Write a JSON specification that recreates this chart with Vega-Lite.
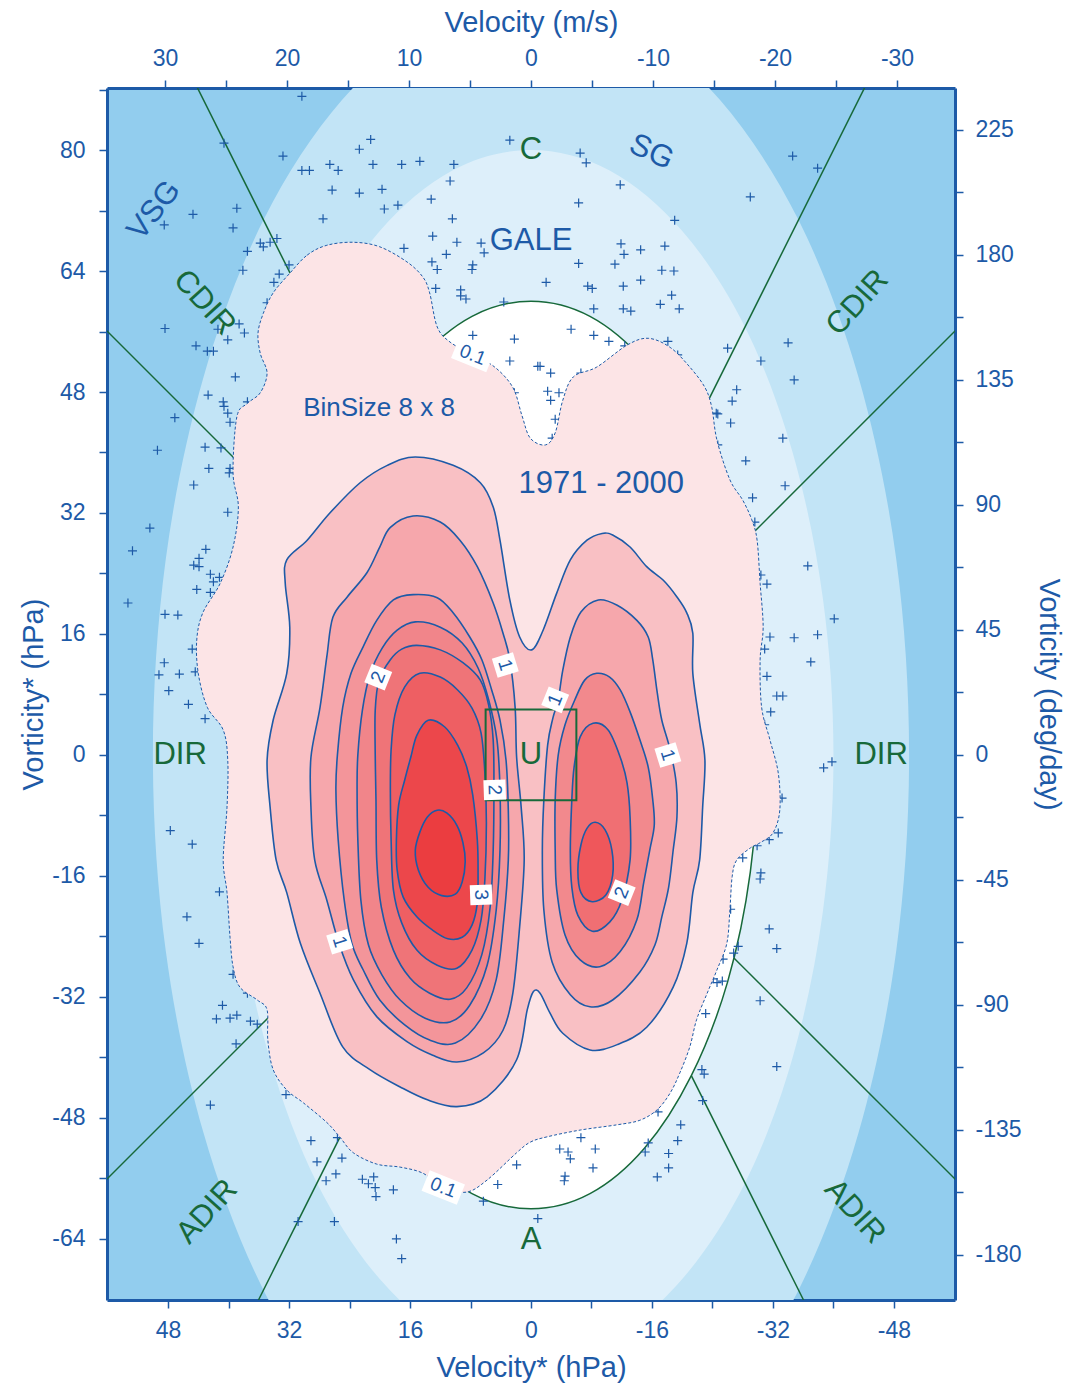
{
"$schema":"https://vega.github.io/schema/vega-lite/v6.json",
"width":848,"height":1212,
"autosize":{"type":"none"},
"padding":{"left":107,"top":88,"right":112,"bottom":84},
"config":{
 "view":{"fill":"#92cdee","stroke":null},
 "font":"Liberation Sans",
 "axis":{"grid":false,"domainColor":"#1d5aa7","domainWidth":3,"tickColor":"#1d5aa7","tickWidth":1.5,"tickSize":8,"labelColor":"#1d5aa7","labelFontSize":23,"labelFont":"Liberation Sans","titleColor":"#1d5aa7","titleFontSize":29,"titleFont":"Liberation Sans","titleFontWeight":"normal","labelOverlap":false,"labelFlush":false,"labelBound":false}
},
"datasets":{
"e50":[{"i":0,"x":50,"y":0},{"i":1,"x":48.3,"y":25.9},{"i":2,"x":43.3,"y":50},{"i":3,"x":35.4,"y":70.7},{"i":4,"x":25,"y":86.6},{"i":5,"x":12.9,"y":96.6},{"i":6,"x":0,"y":100},{"i":7,"x":-12.9,"y":96.6},{"i":8,"x":-25,"y":86.6},{"i":9,"x":-35.4,"y":70.7},{"i":10,"x":-43.3,"y":50},{"i":11,"x":-48.3,"y":25.9},{"i":12,"x":-50,"y":0},{"i":13,"x":-48.3,"y":-25.9},{"i":14,"x":-43.3,"y":-50},{"i":15,"x":-35.4,"y":-70.7},{"i":16,"x":-25,"y":-86.6},{"i":17,"x":-12.9,"y":-96.6},{"i":18,"x":0,"y":-100},{"i":19,"x":12.9,"y":-96.6},{"i":20,"x":25,"y":-86.6},{"i":21,"x":35.4,"y":-70.7},{"i":22,"x":43.3,"y":-50},{"i":23,"x":48.3,"y":-25.9}],
"e40":[{"i":0,"x":40,"y":0},{"i":1,"x":38.6,"y":20.7},{"i":2,"x":34.6,"y":40},{"i":3,"x":28.3,"y":56.6},{"i":4,"x":20,"y":69.3},{"i":5,"x":10.4,"y":77.3},{"i":6,"x":0,"y":80},{"i":7,"x":-10.4,"y":77.3},{"i":8,"x":-20,"y":69.3},{"i":9,"x":-28.3,"y":56.6},{"i":10,"x":-34.6,"y":40},{"i":11,"x":-38.6,"y":20.7},{"i":12,"x":-40,"y":0},{"i":13,"x":-38.6,"y":-20.7},{"i":14,"x":-34.6,"y":-40},{"i":15,"x":-28.3,"y":-56.6},{"i":16,"x":-20,"y":-69.3},{"i":17,"x":-10.4,"y":-77.3},{"i":18,"x":0,"y":-80},{"i":19,"x":10.4,"y":-77.3},{"i":20,"x":20,"y":-69.3},{"i":21,"x":28.3,"y":-56.6},{"i":22,"x":34.6,"y":-40},{"i":23,"x":38.6,"y":-20.7}],
"e30":[{"i":0,"x":30,"y":0},{"i":1,"x":29,"y":15.5},{"i":2,"x":26,"y":30},{"i":3,"x":21.2,"y":42.4},{"i":4,"x":15,"y":52},{"i":5,"x":7.8,"y":58},{"i":6,"x":0,"y":60},{"i":7,"x":-7.8,"y":58},{"i":8,"x":-15,"y":52},{"i":9,"x":-21.2,"y":42.4},{"i":10,"x":-26,"y":30},{"i":11,"x":-29,"y":15.5},{"i":12,"x":-30,"y":0},{"i":13,"x":-29,"y":-15.5},{"i":14,"x":-26,"y":-30},{"i":15,"x":-21.2,"y":-42.4},{"i":16,"x":-15,"y":-52},{"i":17,"x":-7.8,"y":-58},{"i":18,"x":0,"y":-60},{"i":19,"x":7.8,"y":-58},{"i":20,"x":15,"y":-52},{"i":21,"x":21.2,"y":-42.4},{"i":22,"x":26,"y":-30},{"i":23,"x":29,"y":-15.5}],
"rays":[{"x":21.2,"y":42.4,"x2":50,"y2":100},{"x":-21.2,"y":42.4,"x2":-50,"y2":100},{"x":26.8,"y":26.8,"x2":70,"y2":70},{"x":-26.8,"y":26.8,"x2":-70,"y2":70},{"x":26.8,"y":-26.8,"x2":70,"y2":-70},{"x":-26.8,"y":-26.8,"x2":-70,"y2":-70},{"x":21.2,"y":-42.4,"x2":40,"y2":-80},{"x":-21.2,"y":-42.4,"x2":-40,"y2":-80}],
"pts":[{"x":30.3,"y":87.1},{"x":40.6,"y":80.9},{"x":32.8,"y":79.2},{"x":21.2,"y":81.4},{"x":22.7,"y":80.1},{"x":2.8,"y":81.3},{"x":30.3,"y":77.3},{"x":29.3,"y":77.3},{"x":26.6,"y":78.1},{"x":25.5,"y":77.3},{"x":20.9,"y":78.1},{"x":17.1,"y":78.1},{"x":14.7,"y":78.5},{"x":10.2,"y":78.1},{"x":10.7,"y":75.9},{"x":26.3,"y":74.7},{"x":22.7,"y":74.3},{"x":19.7,"y":74.8},{"x":19.4,"y":72.2},{"x":17.6,"y":72.7},{"x":13.2,"y":73.5},{"x":27.5,"y":70.9},{"x":10.4,"y":70.9},{"x":44.7,"y":71.5},{"x":38.9,"y":72.3},{"x":48.5,"y":70.1},{"x":39.4,"y":69.7},{"x":13.0,"y":68.6},{"x":9.8,"y":67.8},{"x":6.6,"y":67.7},{"x":6.2,"y":66.4},{"x":35.8,"y":67.7},{"x":35.4,"y":67.2},{"x":34.5,"y":67.8},{"x":33.6,"y":68.3},{"x":37.5,"y":66.6},{"x":32.0,"y":64.8},{"x":38.1,"y":64.1},{"x":33.3,"y":63.6},{"x":34.0,"y":62.5},{"x":16.8,"y":67.0},{"x":13.1,"y":65.2},{"x":12.4,"y":64.2},{"x":11.2,"y":66.2},{"x":7.7,"y":64.8},{"x":7.8,"y":64.2},{"x":12.6,"y":61.7},{"x":9.3,"y":61.5},{"x":9.3,"y":60.7},{"x":8.6,"y":60.3},{"x":3.6,"y":59.9},{"x":34.9,"y":59.8},{"x":38.6,"y":57.0},{"x":37.9,"y":55.8},{"x":40.1,"y":54.9},{"x":48.4,"y":56.4},{"x":41.4,"y":56.3},{"x":44.3,"y":54.1},{"x":42.8,"y":53.4},{"x":42.0,"y":53.4},{"x":39.1,"y":50.0},{"x":42.7,"y":47.6},{"x":40.7,"y":46.7},{"x":40.6,"y":46.1},{"x":40.1,"y":45.2},{"x":39.8,"y":44.0},{"x":37.5,"y":46.7},{"x":47.1,"y":44.6},{"x":43.1,"y":40.7},{"x":41.0,"y":40.6},{"x":49.4,"y":40.3},{"x":42.6,"y":37.9},{"x":39.8,"y":37.9},{"x":39.9,"y":37.3},{"x":44.6,"y":35.7},{"x":7.7,"y":55.5},{"x":2.2,"y":55.0},{"x":2.8,"y":52.1},{"x":-0.9,"y":51.4},{"x":2.2,"y":47.9},{"x":-6.5,"y":79.6},{"x":-7.3,"y":78.3},{"x":-11.8,"y":75.4},{"x":-6.3,"y":73.0},{"x":-19.0,"y":70.7},{"x":-34.6,"y":79.2},{"x":-37.9,"y":77.6},{"x":-29.0,"y":73.8},{"x":-11.9,"y":67.6},{"x":-12.3,"y":66.2},{"x":-14.5,"y":66.8},{"x":-17.7,"y":67.3},{"x":-6.3,"y":65.0},{"x":-11.1,"y":64.9},{"x":-17.3,"y":64.1},{"x":-18.9,"y":64.0},{"x":-2.0,"y":62.5},{"x":-7.5,"y":62.0},{"x":-8.1,"y":61.7},{"x":-12.2,"y":62.0},{"x":-14.5,"y":62.8},{"x":-18.6,"y":60.8},{"x":-8.3,"y":59.0},{"x":-12.2,"y":59.0},{"x":-13.2,"y":58.7},{"x":-17.1,"y":59.6},{"x":-19.6,"y":59.0},{"x":-5.3,"y":56.3},{"x":-8.3,"y":55.5},{"x":-10.3,"y":54.7},{"x":-12.4,"y":54.1},{"x":-18.1,"y":54.7},{"x":-19.4,"y":52.9},{"x":-1.2,"y":51.4},{"x":-2.6,"y":50.5},{"x":-6.6,"y":50.5},{"x":-2.2,"y":48.1},{"x":-3.7,"y":47.9},{"x":-2.6,"y":46.9},{"x":-3.2,"y":44.4},{"x":-2.8,"y":41.9},{"x":-26.0,"y":53.8},{"x":-30.4,"y":52.1},{"x":-34.0,"y":54.5},{"x":-34.8,"y":49.6},{"x":-27.2,"y":48.3},{"x":-26.6,"y":46.8},{"x":-24.5,"y":45.2},{"x":-24.7,"y":45.1},{"x":-26.4,"y":43.9},{"x":-24.7,"y":41.0},{"x":-33.3,"y":41.9},{"x":-28.4,"y":38.9},{"x":-33.6,"y":35.6},{"x":-29.3,"y":34.0},{"x":-29.6,"y":30.8},{"x":-36.6,"y":25.0},{"x":-30.4,"y":23.8},{"x":-31.2,"y":22.6},{"x":-40.1,"y":18.0},{"x":-31.6,"y":15.6},{"x":-34.8,"y":15.5},{"x":-37.9,"y":15.9},{"x":-30.9,"y":14.0},{"x":-37.0,"y":12.3},{"x":-31.2,"y":10.4},{"x":-32.5,"y":7.8},{"x":-33.3,"y":7.8},{"x":-31.7,"y":5.7},{"x":-30.9,"y":4.0},{"x":-38.7,"y":-1.7},{"x":-39.8,"y":-0.9},{"x":-33.2,"y":-5.7},{"x":-32.7,"y":-10.3},{"x":-31.5,"y":-11.2},{"x":-29.9,"y":-12.0},{"x":-28.0,"y":-13.6},{"x":-30.4,"y":-15.6},{"x":40.1,"y":32.1},{"x":50.4,"y":30.0},{"x":52.7,"y":27.0},{"x":43.0,"y":27.2},{"x":43.9,"y":26.0},{"x":44.6,"y":25.1},{"x":43.9,"y":24.9},{"x":42.4,"y":23.9},{"x":42.0,"y":22.9},{"x":41.2,"y":23.5},{"x":44.2,"y":21.9},{"x":42.4,"y":21.5},{"x":53.3,"y":20.1},{"x":48.4,"y":18.6},{"x":46.7,"y":18.5},{"x":44.8,"y":14.0},{"x":48.5,"y":12.2},{"x":49.2,"y":10.6},{"x":46.5,"y":10.7},{"x":44.4,"y":11.0},{"x":47.9,"y":8.5},{"x":45.3,"y":6.7},{"x":43.1,"y":4.8},{"x":47.7,"y":-10.0},{"x":44.8,"y":-11.8},{"x":41.2,"y":-18.1},{"x":45.5,"y":-21.4},{"x":43.9,"y":-24.9},{"x":39.4,"y":-29.0},{"x":37.5,"y":-31.5},{"x":40.8,"y":-33.1},{"x":41.6,"y":-34.9},{"x":39.8,"y":-34.8},{"x":38.9,"y":-34.4},{"x":37.1,"y":-35.2},{"x":36.2,"y":-35.6},{"x":39.0,"y":-38.2},{"x":42.4,"y":-46.3},{"x":32.4,"y":-44.9},{"x":29.1,"y":-51.0},{"x":25.6,"y":-50.6},{"x":28.3,"y":-53.8},{"x":25.0,"y":-53.3},{"x":25.8,"y":-55.4},{"x":27.1,"y":-56.3},{"x":22.3,"y":-56.1},{"x":21.5,"y":-56.7},{"x":20.8,"y":-55.8},{"x":20.6,"y":-57.2},{"x":20.5,"y":-58.4},{"x":18.2,"y":-57.5},{"x":30.8,"y":-61.7},{"x":26.0,"y":-61.7},{"x":17.8,"y":-64.0},{"x":17.1,"y":-66.6},{"x":1.9,"y":-54.2},{"x":4.4,"y":-56.8},{"x":6.3,"y":-59.0},{"x":-0.9,"y":-61.3},{"x":-30.3,"y":-16.4},{"x":-26.4,"y":-20.4},{"x":-31.5,"y":-23.0},{"x":-32.5,"y":-25.6},{"x":-27.4,"y":-25.3},{"x":-26.8,"y":-26.2},{"x":-25.4,"y":-27.0},{"x":-24.1,"y":-29.6},{"x":-24.6,"y":-30.1},{"x":-25.3,"y":-29.9},{"x":-30.3,"y":-32.5},{"x":-23.1,"y":-34.2},{"x":-32.5,"y":-41.2},{"x":-22.6,"y":-41.6},{"x":-22.9,"y":-42.2},{"x":-22.7,"y":-45.7},{"x":-16.8,"y":-47.2},{"x":-19.8,"y":-48.9},{"x":-19.4,"y":-51.0},{"x":-15.5,"y":-51.3},{"x":-15.1,"y":-52.5},{"x":-18.2,"y":-52.7},{"x":-18.2,"y":-54.6},{"x":-16.7,"y":-55.8},{"x":-6.6,"y":-50.6},{"x":-3.8,"y":-52.1},{"x":-4.9,"y":-52.5},{"x":-5.2,"y":-53.4},{"x":-8.5,"y":-52.1},{"x":-8.2,"y":-54.6},{"x":-4.5,"y":-55.7},{"x":-4.4,"y":-56.3}],
"c01":[{"i":0,"x":31.9,"y":63.7},{"i":1,"x":29.6,"y":66.1},{"i":2,"x":27.0,"y":67.4},{"i":3,"x":23.5,"y":67.8},{"i":4,"x":20.0,"y":67.2},{"i":5,"x":16.4,"y":65.2},{"i":6,"x":14.3,"y":63.2},{"i":7,"x":13.4,"y":61.1},{"i":8,"x":12.4,"y":56.6},{"i":9,"x":10.7,"y":54.6},{"i":10,"x":7.7,"y":52.9},{"i":11,"x":4.8,"y":51.3},{"i":12,"x":2.4,"y":48.6},{"i":13,"x":1.2,"y":44.9},{"i":14,"x":0.1,"y":41.9},{"i":15,"x":-1.9,"y":41.0},{"i":16,"x":-3.2,"y":42.6},{"i":17,"x":-4.2,"y":46.9},{"i":18,"x":-5.6,"y":50.0},{"i":19,"x":-8.7,"y":51.3},{"i":20,"x":-12.7,"y":54.2},{"i":21,"x":-15.5,"y":55.1},{"i":22,"x":-18.4,"y":53.9},{"i":23,"x":-21.0,"y":51.3},{"i":24,"x":-23.0,"y":48.6},{"i":25,"x":-23.9,"y":46.0},{"i":26,"x":-24.6,"y":41.6},{"i":27,"x":-26.3,"y":36.4},{"i":28,"x":-28.0,"y":33.7},{"i":29,"x":-29.2,"y":31.1},{"i":30,"x":-29.9,"y":28.4},{"i":31,"x":-30.3,"y":22.7},{"i":32,"x":-30.7,"y":16.9},{"i":33,"x":-30.3,"y":12.6},{"i":34,"x":-30.5,"y":6.3},{"i":35,"x":-31.6,"y":2.0},{"i":36,"x":-32.7,"y":-2.4},{"i":37,"x":-32.9,"y":-7.3},{"i":38,"x":-32.0,"y":-10.3},{"i":39,"x":-30.3,"y":-11.6},{"i":40,"x":-29.0,"y":-12.3},{"i":41,"x":-27.2,"y":-13.9},{"i":42,"x":-26.6,"y":-16.1},{"i":43,"x":-26.3,"y":-20.5},{"i":44,"x":-25.9,"y":-24.9},{"i":45,"x":-24.6,"y":-28.4},{"i":46,"x":-23.3,"y":-31.5},{"i":47,"x":-21.9,"y":-35.0},{"i":48,"x":-21.0,"y":-38.6},{"i":49,"x":-19.7,"y":-42.0},{"i":50,"x":-18.4,"y":-44.7},{"i":51,"x":-16.7,"y":-46.9},{"i":52,"x":-14.4,"y":-48.3},{"i":53,"x":-11.4,"y":-48.9},{"i":54,"x":-6.5,"y":-49.6},{"i":55,"x":-2.1,"y":-50.5},{"i":56,"x":0.1,"y":-51.2},{"i":57,"x":1.9,"y":-52.6},{"i":58,"x":5.8,"y":-56.2},{"i":59,"x":8.5,"y":-57.8},{"i":60,"x":11.6,"y":-57.2},{"i":61,"x":14.3,"y":-55.3},{"i":62,"x":17.3,"y":-54.5},{"i":63,"x":20.4,"y":-54.1},{"i":64,"x":23.5,"y":-52.6},{"i":65,"x":25.3,"y":-50.5},{"i":66,"x":27.0,"y":-48.6},{"i":67,"x":30.1,"y":-46.0},{"i":68,"x":32.3,"y":-44.3},{"i":69,"x":34.1,"y":-41.6},{"i":70,"x":34.8,"y":-37.7},{"i":71,"x":34.9,"y":-33.7},{"i":72,"x":36.2,"y":-32.4},{"i":73,"x":38.5,"y":-30.7},{"i":74,"x":39.4,"y":-28.0},{"i":75,"x":39.8,"y":-24.1},{"i":76,"x":40.2,"y":-18.2},{"i":77,"x":40.7,"y":-13.9},{"i":78,"x":40.2,"y":-6.9},{"i":79,"x":40.1,"y":-0.7},{"i":80,"x":40.7,"y":3.3},{"i":81,"x":42.8,"y":6.3},{"i":82,"x":44.0,"y":10.8},{"i":83,"x":44.2,"y":15.2},{"i":84,"x":43.4,"y":18.8},{"i":85,"x":41.1,"y":22.7},{"i":86,"x":39.4,"y":27.5},{"i":87,"x":38.7,"y":32.8},{"i":88,"x":39.4,"y":37.3},{"i":89,"x":38.9,"y":44.7},{"i":90,"x":37.5,"y":46.5},{"i":91,"x":35.8,"y":47.9},{"i":92,"x":34.9,"y":50.5},{"i":93,"x":35.8,"y":53.1},{"i":94,"x":36.1,"y":55.8},{"i":95,"x":35.4,"y":58.4},{"i":96,"x":34.1,"y":61.1}],
"cA":[{"i":0,"x":-0.1,"y":13.9},{"i":1,"x":1.5,"y":15.6},{"i":2,"x":2.8,"y":20.5},{"i":3,"x":4.1,"y":28.4},{"i":4,"x":5.0,"y":32.8},{"i":5,"x":6.7,"y":36.0},{"i":6,"x":10.3,"y":38.3},{"i":7,"x":15.3,"y":39.4},{"i":8,"x":19.0,"y":38.3},{"i":9,"x":22.6,"y":36.0},{"i":10,"x":26.6,"y":32.0},{"i":11,"x":29.6,"y":28.4},{"i":12,"x":32.3,"y":25.8},{"i":13,"x":32.5,"y":22.7},{"i":14,"x":31.9,"y":16.9},{"i":15,"x":32.3,"y":10.8},{"i":16,"x":34.1,"y":4.6},{"i":17,"x":34.9,"y":-0.7},{"i":18,"x":34.5,"y":-6.9},{"i":19,"x":33.7,"y":-13.9},{"i":20,"x":32.3,"y":-18.2},{"i":21,"x":30.5,"y":-24.9},{"i":22,"x":27.9,"y":-31.5},{"i":23,"x":24.9,"y":-38.6},{"i":24,"x":21.3,"y":-41.6},{"i":25,"x":17.3,"y":-43.9},{"i":26,"x":13.7,"y":-45.6},{"i":27,"x":9.8,"y":-46.5},{"i":28,"x":5.8,"y":-45.2},{"i":29,"x":1.9,"y":-40.3},{"i":30,"x":0.5,"y":-33.7},{"i":31,"x":-0.3,"y":-31.3},{"i":32,"x":-1.2,"y":-31.5},{"i":33,"x":-2.5,"y":-34.1},{"i":34,"x":-4.2,"y":-36.8},{"i":35,"x":-7.8,"y":-39.0},{"i":36,"x":-11.4,"y":-38.3},{"i":37,"x":-15.3,"y":-36.0},{"i":38,"x":-18.8,"y":-30.7},{"i":39,"x":-20.6,"y":-24.9},{"i":40,"x":-21.4,"y":-18.2},{"i":41,"x":-22.3,"y":-13.9},{"i":42,"x":-22.7,"y":-6.9},{"i":43,"x":-23.0,"y":-0.7},{"i":44,"x":-22.3,"y":4.2},{"i":45,"x":-21.4,"y":10.8},{"i":46,"x":-21.4,"y":16.1},{"i":47,"x":-20.6,"y":18.8},{"i":48,"x":-19.3,"y":20.9},{"i":49,"x":-17.5,"y":23.1},{"i":50,"x":-15.3,"y":24.9},{"i":51,"x":-13.1,"y":27.5},{"i":52,"x":-10.8,"y":29.1},{"i":53,"x":-9.4,"y":29.3},{"i":54,"x":-7.4,"y":28.4},{"i":55,"x":-5.2,"y":25.8},{"i":56,"x":-3.4,"y":21.4},{"i":57,"x":-1.6,"y":16.5}],
"cBL":[{"i":0,"x":15.6,"y":31.6},{"i":1,"x":12.0,"y":30.8},{"i":2,"x":9.4,"y":28.4},{"i":3,"x":7.1,"y":24.9},{"i":4,"x":5.0,"y":20.1},{"i":5,"x":3.7,"y":16.1},{"i":6,"x":2.8,"y":12.6},{"i":7,"x":2.1,"y":6.3},{"i":8,"x":1.9,"y":-0.3},{"i":9,"x":1.3,"y":-6.9},{"i":10,"x":0.9,"y":-13.9},{"i":11,"x":1.5,"y":-22.7},{"i":12,"x":2.4,"y":-31.5},{"i":13,"x":3.7,"y":-36.4},{"i":14,"x":6.3,"y":-39.4},{"i":15,"x":9.8,"y":-40.6},{"i":16,"x":13.0,"y":-39.7},{"i":17,"x":16.4,"y":-37.9},{"i":18,"x":20.4,"y":-34.6},{"i":19,"x":23.5,"y":-29.7},{"i":20,"x":25.4,"y":-24.9},{"i":21,"x":27.0,"y":-19.2},{"i":22,"x":28.6,"y":-13.9},{"i":23,"x":29.1,"y":-6.9},{"i":24,"x":29.1,"y":-0.3},{"i":25,"x":27.9,"y":6.3},{"i":26,"x":27.0,"y":13.0},{"i":27,"x":26.2,"y":18.2},{"i":28,"x":24.3,"y":20.9},{"i":29,"x":21.7,"y":24.1},{"i":30,"x":20.0,"y":27.5},{"i":31,"x":18.6,"y":30.1}],
"cCL":[{"i":0,"x":15.6,"y":21.2},{"i":1,"x":12.4,"y":20.8},{"i":2,"x":10.3,"y":18.8},{"i":3,"x":8.1,"y":15.6},{"i":4,"x":6.5,"y":12.6},{"i":5,"x":5.2,"y":8.6},{"i":6,"x":4.1,"y":4.6},{"i":7,"x":3.3,"y":-0.7},{"i":8,"x":3.0,"y":-7.3},{"i":9,"x":3.0,"y":-13.9},{"i":10,"x":3.6,"y":-21.8},{"i":11,"x":4.6,"y":-29.7},{"i":12,"x":6.7,"y":-35.0},{"i":13,"x":10.0,"y":-38.1},{"i":14,"x":13.4,"y":-37.7},{"i":15,"x":16.7,"y":-35.7},{"i":16,"x":20.0,"y":-32.4},{"i":17,"x":22.2,"y":-28.4},{"i":18,"x":23.7,"y":-24.9},{"i":19,"x":24.7,"y":-19.2},{"i":20,"x":25.5,"y":-11.2},{"i":21,"x":25.8,"y":-4.6},{"i":22,"x":25.6,"y":0},{"i":23,"x":24.9,"y":6.3},{"i":24,"x":23.8,"y":10.8},{"i":25,"x":22.2,"y":14.3},{"i":26,"x":20.4,"y":17.8},{"i":27,"x":18.2,"y":20.5}],
"cXL":[{"i":0,"x":15.3,"y":17.6},{"i":1,"x":12.0,"y":16.9},{"i":2,"x":9.1,"y":14.8},{"i":3,"x":7.0,"y":11.5},{"i":4,"x":5.6,"y":7.3},{"i":5,"x":4.5,"y":2.0},{"i":6,"x":4.1,"y":-4.6},{"i":7,"x":4.1,"y":-12.6},{"i":8,"x":4.6,"y":-20.5},{"i":9,"x":5.8,"y":-27.8},{"i":10,"x":8.1,"y":-33.1},{"i":11,"x":10.7,"y":-35.3},{"i":12,"x":14.0,"y":-34.8},{"i":13,"x":17.3,"y":-32.4},{"i":14,"x":19.7,"y":-29.1},{"i":15,"x":21.5,"y":-25.1},{"i":16,"x":22.5,"y":-19.2},{"i":17,"x":22.9,"y":-11.2},{"i":18,"x":23.0,"y":-4.6},{"i":19,"x":22.9,"y":0},{"i":20,"x":22.3,"y":5.9},{"i":21,"x":21.3,"y":10.6},{"i":22,"x":19.7,"y":14.1},{"i":23,"x":17.7,"y":16.5}],
"cDL":[{"i":0,"x":15.1,"y":14.5},{"i":1,"x":12.0,"y":13.9},{"i":2,"x":9.0,"y":12.2},{"i":3,"x":6.7,"y":9.9},{"i":4,"x":5.6,"y":6.6},{"i":5,"x":5.0,"y":2.0},{"i":6,"x":4.9,"y":-4.6},{"i":7,"x":5.0,"y":-12.6},{"i":8,"x":5.4,"y":-20.1},{"i":9,"x":6.5,"y":-26.4},{"i":10,"x":8.5,"y":-30.8},{"i":11,"x":10.7,"y":-32.3},{"i":12,"x":13.4,"y":-31.5},{"i":13,"x":16.0,"y":-29.5},{"i":14,"x":18.2,"y":-25.8},{"i":15,"x":19.8,"y":-20.1},{"i":16,"x":20.4,"y":-13.9},{"i":17,"x":20.5,"y":-5.9},{"i":18,"x":20.6,"y":0},{"i":19,"x":20.6,"y":5.9},{"i":20,"x":20.1,"y":9.9},{"i":21,"x":18.6,"y":12.6},{"i":22,"x":17.1,"y":14.0}],
"cEL":[{"i":0,"x":14.7,"y":10.8},{"i":1,"x":12.0,"y":10.3},{"i":2,"x":9.7,"y":8.6},{"i":3,"x":7.8,"y":6.2},{"i":4,"x":6.6,"y":2.9},{"i":5,"x":6.1,"y":-2.4},{"i":6,"x":5.9,"y":-9.0},{"i":7,"x":6.1,"y":-16.5},{"i":8,"x":6.6,"y":-21.8},{"i":9,"x":7.8,"y":-25.8},{"i":10,"x":9.8,"y":-28.2},{"i":11,"x":12.4,"y":-27.8},{"i":12,"x":15.1,"y":-25.8},{"i":13,"x":17.1,"y":-22.2},{"i":14,"x":18.2,"y":-17.8},{"i":15,"x":18.5,"y":-11.2},{"i":16,"x":18.6,"y":-4.6},{"i":17,"x":18.5,"y":0.7},{"i":18,"x":18.0,"y":5.3},{"i":19,"x":16.7,"y":9.0}],
"cFL":[{"i":0,"x":13.6,"y":4.6},{"i":1,"x":11.4,"y":3.7},{"i":2,"x":9.7,"y":1.3},{"i":3,"x":8.5,"y":-1.6},{"i":4,"x":7.7,"y":-5.3},{"i":5,"x":7.1,"y":-11.2},{"i":6,"x":7.0,"y":-15.6},{"i":7,"x":7.1,"y":-19.6},{"i":8,"x":7.8,"y":-22.5},{"i":9,"x":9.1,"y":-24.1},{"i":10,"x":11.0,"y":-24.3},{"i":11,"x":13.1,"y":-23.1},{"i":12,"x":15.1,"y":-21.4},{"i":13,"x":16.9,"y":-18.8},{"i":14,"x":17.7,"y":-15.2},{"i":15,"x":17.8,"y":-11.2},{"i":16,"x":17.5,"y":-6.6},{"i":17,"x":16.7,"y":-3.3},{"i":18,"x":15.9,"y":-0.3},{"i":19,"x":15.1,"y":2.6}],
"cGL":[{"i":0,"x":12.4,"y":-7.3},{"i":1,"x":11.1,"y":-7.7},{"i":2,"x":9.8,"y":-9.3},{"i":3,"x":9.0,"y":-11.6},{"i":4,"x":8.7,"y":-14.1},{"i":5,"x":9.1,"y":-16.8},{"i":6,"x":10.0,"y":-18.4},{"i":7,"x":11.8,"y":-18.6},{"i":8,"x":13.6,"y":-17.5},{"i":9,"x":14.9,"y":-15.2},{"i":10,"x":15.3,"y":-12.6},{"i":11,"x":14.7,"y":-10.2},{"i":12,"x":13.7,"y":-8.2}],
"cBR":[{"i":0,"x":-8.9,"y":20.5},{"i":1,"x":-11.4,"y":19.8},{"i":2,"x":-14.0,"y":17.8},{"i":3,"x":-15.5,"y":15.6},{"i":4,"x":-16.1,"y":12.6},{"i":5,"x":-16.7,"y":8.2},{"i":6,"x":-17.3,"y":4.6},{"i":7,"x":-18.4,"y":0.7},{"i":8,"x":-19.2,"y":-3.7},{"i":9,"x":-19.3,"y":-8.2},{"i":10,"x":-18.8,"y":-12.6},{"i":11,"x":-18.2,"y":-17.5},{"i":12,"x":-17.3,"y":-21.4},{"i":13,"x":-16.4,"y":-25.1},{"i":14,"x":-14.4,"y":-28.7},{"i":15,"x":-10.8,"y":-32.4},{"i":16,"x":-7.8,"y":-33.3},{"i":17,"x":-5.2,"y":-31.7},{"i":18,"x":-2.8,"y":-27.4},{"i":19,"x":-1.7,"y":-20.5},{"i":20,"x":-1.5,"y":-12.6},{"i":21,"x":-1.7,"y":-5.9},{"i":22,"x":-2.2,"y":1.3},{"i":23,"x":-2.9,"y":4.9},{"i":24,"x":-3.6,"y":7.3},{"i":25,"x":-4.2,"y":11.2},{"i":26,"x":-5.2,"y":15.6},{"i":27,"x":-6.6,"y":18.9}],
"cCR":[{"i":0,"x":-8.7,"y":10.8},{"i":1,"x":-10.4,"y":10.3},{"i":2,"x":-11.8,"y":8.6},{"i":3,"x":-13.1,"y":5.7},{"i":4,"x":-14.4,"y":2.0},{"i":5,"x":-15.5,"y":-1.6},{"i":6,"x":-16.1,"y":-5.9},{"i":7,"x":-16.3,"y":-9.3},{"i":8,"x":-15.7,"y":-12.6},{"i":9,"x":-14.9,"y":-16.9},{"i":10,"x":-14.0,"y":-21.8},{"i":11,"x":-11.8,"y":-26.0},{"i":12,"x":-9.1,"y":-28.0},{"i":13,"x":-6.5,"y":-27.1},{"i":14,"x":-4.5,"y":-23.8},{"i":15,"x":-3.4,"y":-17.8},{"i":16,"x":-3.2,"y":-12.6},{"i":17,"x":-3.2,"y":-5.9},{"i":18,"x":-3.6,"y":0},{"i":19,"x":-4.5,"y":4.0},{"i":20,"x":-5.8,"y":7.3},{"i":21,"x":-7.1,"y":9.9}],
"cDR":[{"i":0,"x":-8.2,"y":4.2},{"i":1,"x":-10.2,"y":3.3},{"i":2,"x":-11.8,"y":-0.3},{"i":3,"x":-12.7,"y":-3.7},{"i":4,"x":-13.1,"y":-8.2},{"i":5,"x":-13.1,"y":-13.9},{"i":6,"x":-12.0,"y":-19.2},{"i":7,"x":-10.4,"y":-22.1},{"i":8,"x":-8.1,"y":-23.3},{"i":9,"x":-6.2,"y":-21.2},{"i":10,"x":-5.4,"y":-17.5},{"i":11,"x":-5.2,"y":-12.6},{"i":12,"x":-5.4,"y":-5.9},{"i":13,"x":-5.7,"y":-1.6},{"i":14,"x":-6.5,"y":2.4}],
"cER":[{"i":0,"x":-8.5,"y":-8.9},{"i":1,"x":-9.8,"y":-9.9},{"i":2,"x":-10.7,"y":-12.6},{"i":3,"x":-10.8,"y":-15.9},{"i":4,"x":-9.9,"y":-18.5},{"i":5,"x":-8.1,"y":-19.4},{"i":6,"x":-6.6,"y":-18.2},{"i":7,"x":-6.2,"y":-15.2},{"i":8,"x":-6.6,"y":-11.9},{"i":9,"x":-7.4,"y":-9.7}],
"lb22":[{"x":7.7,"y":52.9,"t":"0.1"},{"x":11.6,"y":-57.2,"t":"0.1"}],
"lb73":[{"x":3.4,"y":11.9,"t":"1"},{"x":25.3,"y":-24.7,"t":"1"},{"x":-18.1,"y":0,"t":"1"}],
"lb88":[{"x":4.8,"y":-4.6,"t":"2"},{"x":6.6,"y":-18.5,"t":"3"}],
"lbm68":[{"x":20.2,"y":10.3,"t":"2"},{"x":-12.0,"y":-18.2,"t":"2"},{"x":-3.2,"y":7.3,"t":"1"}]
},
"layer":[
{
 "encoding":{
  "x":{"field":"x","type":"quantitative","scale":{"domain":[-56.07,56.07],"reverse":true,"nice":false,"zero":false},
       "axis":{"orient":"bottom","title":"Velocity* (hPa)","values":[-48,-40,-32,-24,-16,-8,0,8,16,24,32,40,48],"labelExpr":"datum.value % 16 == 0 ? '' + datum.value : ''","labelPadding":11,"titlePadding":11}},
  "y":{"field":"y","type":"quantitative","scale":{"domain":[-72.07,88.2],"nice":false,"zero":false},
       "axis":{"orient":"left","title":"Vorticity* (hPa)","values":[-64,-56,-48,-40,-32,-24,-16,-8,0,8,16,24,32,40,48,56,64,72,80,88],"labelExpr":"datum.value % 16 == 0 ? '' + datum.value : ''","labelPadding":14,"titlePadding":3}}
 },
 "layer":[
  {"data":{"name":"e50"},"mark":{"type":"line","interpolate":"cardinal-closed","fill":"#c2e4f6","strokeOpacity":0,"clip":true},"encoding":{"order":{"field":"i","type":"quantitative"}}},
  {"data":{"name":"e40"},"mark":{"type":"line","interpolate":"cardinal-closed","fill":"#ddeffa","strokeOpacity":0,"clip":true},"encoding":{"order":{"field":"i","type":"quantitative"}}},
  {"data":{"name":"e30"},"mark":{"type":"line","interpolate":"cardinal-closed","fill":"#ffffff","stroke":"#17693a","strokeWidth":1.5,"clip":true},"encoding":{"order":{"field":"i","type":"quantitative"}}},
  {"data":{"name":"rays"},"mark":{"type":"rule","stroke":"#17693a","strokeWidth":1.5,"clip":true},"encoding":{"x2":{"field":"x2"},"y2":{"field":"y2"}}},
  {"data":{"name":"pts"},"mark":{"type":"point","shape":"M-1,0L1,0M0,-1L0,1","size":81,"filled":false,"stroke":"#1d5aa7","strokeWidth":1.2,"opacity":1}},
  {"data":{"name":"c01"},"mark":{"type":"line","interpolate":"cardinal-closed","fill":"#fce4e6","stroke":"#1d5aa7","strokeWidth":1,"strokeDash":[3,2]},"encoding":{"order":{"field":"i","type":"quantitative"}}},
  {"data":{"name":"cA"},"mark":{"type":"line","interpolate":"cardinal-closed","fill":"#f9c0c4","stroke":"#1d5aa7","strokeWidth":1.6},"encoding":{"order":{"field":"i","type":"quantitative"}}},
  {"data":{"name":"cBL"},"mark":{"type":"line","interpolate":"cardinal-closed","fill":"#f6a7ac","stroke":"#1d5aa7","strokeWidth":1.6},"encoding":{"order":{"field":"i","type":"quantitative"}}},
  {"data":{"name":"cBR"},"mark":{"type":"line","interpolate":"cardinal-closed","fill":"#f6a7ac","stroke":"#1d5aa7","strokeWidth":1.6},"encoding":{"order":{"field":"i","type":"quantitative"}}},
  {"data":{"name":"cCL"},"mark":{"type":"line","interpolate":"cardinal-closed","fill":"#f3959a","stroke":"#1d5aa7","strokeWidth":1.6},"encoding":{"order":{"field":"i","type":"quantitative"}}},
  {"data":{"name":"cCR"},"mark":{"type":"line","interpolate":"cardinal-closed","fill":"#f2898d","stroke":"#1d5aa7","strokeWidth":1.6},"encoding":{"order":{"field":"i","type":"quantitative"}}},
  {"data":{"name":"cXL"},"mark":{"type":"line","interpolate":"cardinal-closed","fill":"#f1858a","stroke":"#1d5aa7","strokeWidth":1.6},"encoding":{"order":{"field":"i","type":"quantitative"}}},
  {"data":{"name":"cDL"},"mark":{"type":"line","interpolate":"cardinal-closed","fill":"#ef7478","stroke":"#1d5aa7","strokeWidth":1.6},"encoding":{"order":{"field":"i","type":"quantitative"}}},
  {"data":{"name":"cDR"},"mark":{"type":"line","interpolate":"cardinal-closed","fill":"#f06f73","stroke":"#1d5aa7","strokeWidth":1.6},"encoding":{"order":{"field":"i","type":"quantitative"}}},
  {"data":{"name":"cEL"},"mark":{"type":"line","interpolate":"cardinal-closed","fill":"#ee5f63","stroke":"#1d5aa7","strokeWidth":1.6},"encoding":{"order":{"field":"i","type":"quantitative"}}},
  {"data":{"name":"cER"},"mark":{"type":"line","interpolate":"cardinal-closed","fill":"#ef575b","stroke":"#1d5aa7","strokeWidth":1.6},"encoding":{"order":{"field":"i","type":"quantitative"}}},
  {"data":{"name":"cFL"},"mark":{"type":"line","interpolate":"cardinal-closed","fill":"#ec474b","stroke":"#1d5aa7","strokeWidth":1.6},"encoding":{"order":{"field":"i","type":"quantitative"}}},
  {"data":{"name":"cGL"},"mark":{"type":"line","interpolate":"cardinal-closed","fill":"#eb3d40","stroke":"#1d5aa7","strokeWidth":1.6},"encoding":{"order":{"field":"i","type":"quantitative"}}},
  {"data":{"values":[{"x":6,"x2":-6,"y":6,"y2":-6}]},"mark":{"type":"rect","fillOpacity":0,"stroke":"#17693a","strokeWidth":2},"encoding":{"x2":{"field":"x2"},"y2":{"field":"y2"}}},
  {"data":{"values":[{"x":0,"y":80,"t":"C"},{"x":0,"y":-64.1,"t":"A"},{"x":0,"y":0,"t":"U"},{"x":46.4,"y":0,"t":"DIR"},{"x":-46.3,"y":0,"t":"DIR"}]},"mark":{"type":"text","fontSize":31,"color":"#17693a","align":"center","baseline":"middle"},"encoding":{"text":{"field":"t"}}},
  {"data":{"values":[{"x":43.2,"y":59.8,"t":"CDIR"},{"x":-42.8,"y":-60.4,"t":"ADIR"}]},"mark":{"type":"text","fontSize":31,"color":"#17693a","align":"center","baseline":"middle","angle":48},"encoding":{"text":{"field":"t"}}},
  {"data":{"values":[{"x":-43.2,"y":59.8,"t":"CDIR"},{"x":42.8,"y":-60.4,"t":"ADIR"}]},"mark":{"type":"text","fontSize":31,"color":"#17693a","align":"center","baseline":"middle","angle":-48},"encoding":{"text":{"field":"t"}}},
  {"data":{"values":[{"x":0,"y":68.0,"t":"GALE"},{"x":-9.3,"y":35.8,"t":"1971 - 2000"}]},"mark":{"type":"text","fontSize":31,"color":"#1d5aa7","align":"center","baseline":"middle"},"encoding":{"text":{"field":"t"}}},
  {"data":{"values":[{"x":20.1,"y":45.9,"t":"BinSize 8 x 8"}]},"mark":{"type":"text","fontSize":26,"color":"#1d5aa7","align":"center","baseline":"middle"},"encoding":{"text":{"field":"t"}}},
  {"data":{"values":[{"x":-15.9,"y":79.7,"t":"SG"}]},"mark":{"type":"text","fontSize":31,"color":"#1d5aa7","align":"center","baseline":"middle","angle":25},"encoding":{"text":{"field":"t"}}},
  {"data":{"values":[{"x":49.8,"y":72.0,"t":"VSG"}]},"mark":{"type":"text","fontSize":31,"color":"#1d5aa7","align":"center","baseline":"middle","angle":-52},"encoding":{"text":{"field":"t"}}},
  {"data":{"name":"lb22"},"mark":{"type":"point","shape":"M-1.9,-1.1L1.9,-1.1L1.9,1.1L-1.9,1.1Z","size":400,"filled":true,"color":"#ffffff","opacity":1,"angle":22}},
  {"data":{"name":"lb22"},"mark":{"type":"text","fontSize":19,"color":"#1d5aa7","align":"center","baseline":"middle","angle":22},"encoding":{"text":{"field":"t"}}},
  {"data":{"name":"lb73"},"mark":{"type":"point","shape":"M-1,-1.1L1,-1.1L1,1.1L-1,1.1Z","size":400,"filled":true,"color":"#ffffff","opacity":1,"angle":73}},
  {"data":{"name":"lb73"},"mark":{"type":"text","fontSize":19,"color":"#1d5aa7","align":"center","baseline":"middle","angle":73},"encoding":{"text":{"field":"t"}}},
  {"data":{"name":"lb88"},"mark":{"type":"point","shape":"M-1,-1.1L1,-1.1L1,1.1L-1,1.1Z","size":400,"filled":true,"color":"#ffffff","opacity":1,"angle":88}},
  {"data":{"name":"lb88"},"mark":{"type":"text","fontSize":19,"color":"#1d5aa7","align":"center","baseline":"middle","angle":88},"encoding":{"text":{"field":"t"}}},
  {"data":{"name":"lbm68"},"mark":{"type":"point","shape":"M-1,-1.1L1,-1.1L1,1.1L-1,1.1Z","size":400,"filled":true,"color":"#ffffff","opacity":1,"angle":-68}},
  {"data":{"name":"lbm68"},"mark":{"type":"text","fontSize":19,"color":"#1d5aa7","align":"center","baseline":"middle","angle":-68},"encoding":{"text":{"field":"t"}}}
 ]
},
{
 "data":{"values":[{"ms":0,"dd":0}]},
 "mark":{"type":"point","opacity":0},
 "encoding":{
  "x":{"field":"ms","type":"quantitative","scale":{"domain":[-34.75,34.75],"reverse":true,"nice":false,"zero":false},
       "axis":{"orient":"top","title":"Velocity (m/s)","values":[-30,-25,-20,-15,-10,-5,0,5,10,15,20,25,30],"labelExpr":"datum.value % 10 == 0 ? '' + datum.value : ''","labelPadding":10,"titlePadding":10}},
  "y":{"field":"dd","type":"quantitative","scale":{"domain":[-196.2,240.1],"nice":false,"zero":false},
       "axis":{"orient":"right","title":"Vorticity (deg/day)","values":[-180,-157.5,-135,-112.5,-90,-67.5,-45,-22.5,0,22.5,45,67.5,90,112.5,135,157.5,180,202.5,225],"labelExpr":"datum.value % 45 == 0 ? '' + datum.value : ''","labelPadding":12,"titlePadding":12}}
 }
}
],
"resolve":{"scale":{"x":"independent","y":"independent"}}
}
